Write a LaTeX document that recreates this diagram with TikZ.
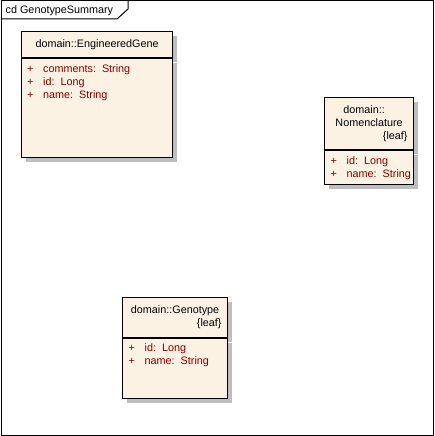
\documentclass[tikz,border=0pt]{standalone}
\usepackage{fontspec}
\setmainfont{Liberation Sans}
\usetikzlibrary{positioning,shadows}
\definecolor{classfill}{RGB}{252,242,228}
\definecolor{attrred}{RGB}{128,0,0}
\definecolor{shadowgray}{RGB}{190,190,190}
\newcommand{\attrline}[2]{\makebox[16pt][l]{+}#1:\hspace{6pt}#2}

\begin{document}
\begin{tikzpicture}[x=1pt,y=-1pt,
  every node/.style={font=\fontsize{10.8}{13}\selectfont},
  classbox/.style={draw=black,line width=1.2pt,fill=classfill,anchor=north west,
    inner sep=0pt,drop shadow={shadow xshift=4pt,shadow yshift=-4pt,
    fill=shadowgray,opacity=1}},
  attrs/.style={anchor=north west,inner sep=0pt,align=left,text=attrred}]
%
\useasboundingbox (0,0) rectangle (434,436);
%
% frame
\draw[line width=1pt] (1,1) rectangle (433,435);
\draw[line width=1pt] (1,19) -- (117,19) -- (128,9) -- (128,1);
\node[anchor=west,inner sep=0pt] (cdlabel) at (5.5,11) {cd GenotypeSummary};
%
% domain::EngineeredGene
\node[classbox,minimum width=151pt,minimum height=26pt] (egHead) at (21,31)
  {domain::EngineeredGene};
\node[classbox,minimum width=151pt,minimum height=99pt] (egBody) at (egHead.south west) {};
\node[attrs] (egAttrs) at ([xshift=6pt,yshift=-6pt]egBody.north west)
  {\attrline{comments}{String}\\ \attrline{id}{Long}\\ \attrline{name}{String}};
%
% domain::Nomenclature
\node[classbox,minimum width=89pt,minimum height=52pt,text width=77pt,align=center]
  (nomHead) at (324,97) {domain::\kern10pt\\ Nomenclature\\ \hfill\{leaf\}};
\node[classbox,minimum width=89pt,minimum height=34pt] (nomBody) at (nomHead.south west) {};
\node[attrs] (nomAttrs) at ([xshift=6.5pt,yshift=-6pt]nomBody.north west)
  {\attrline{id}{Long}\\ \attrline{name}{String}};
%
% domain::Genotype
\node[classbox,minimum width=105pt,minimum height=40pt,text width=93pt,align=center]
  (genHead) at (122,297) {domain::Genotype\\ \hfill\{leaf\}};
\node[classbox,minimum width=105pt,minimum height=60pt] (genBody) at (genHead.south west) {};
\node[attrs] (genAttrs) at ([xshift=6.5pt,yshift=-5.5pt]genBody.north west)
  {\attrline{id}{Long}\\ \attrline{name}{String}};
%
\end{tikzpicture}
\end{document}
